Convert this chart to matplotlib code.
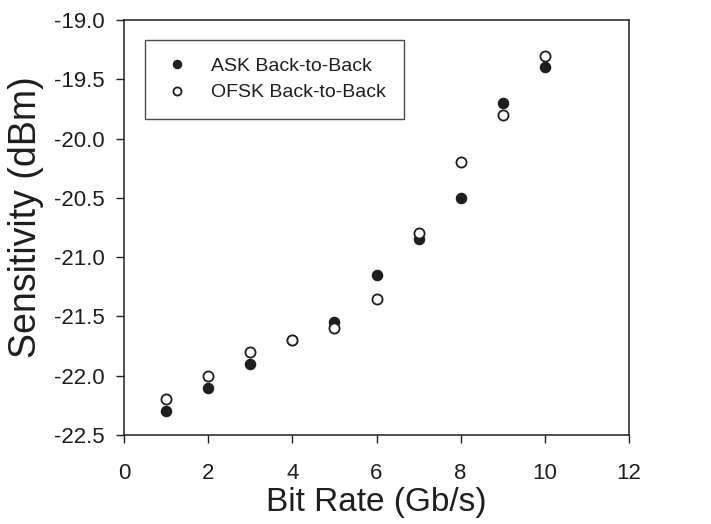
import matplotlib
matplotlib.use("Agg")
import matplotlib.pyplot as plt

plt.rcParams['font.family'] = ['Liberation Sans', 'DejaVu Sans']

bit_rate = [1, 2, 3, 4, 5, 6, 7, 8, 9, 10]
ask_b2b = [-22.3, -22.1, -21.9, -21.7, -21.55, -21.15, -20.85, -20.5, -19.7, -19.4]
ofsk_b2b = [-22.2, -22.0, -21.8, -21.7, -21.6, -21.35, -20.8, -20.2, -19.8, -19.3]

x_ticks = [0, 2, 4, 6, 8, 10, 12]
y_ticks = [-22.5, -22.0, -21.5, -21.0, -20.5, -20.0, -19.5, -19.0]

ink = '#1e1e1e'

fig = plt.figure(figsize=(7.11, 5.24), dpi=100)
ax = fig.add_axes([0.1744, 0.1698, 0.7103, 0.792])

ax.plot(bit_rate, ask_b2b, linestyle='none', marker='o', markersize=7.3,
        markerfacecolor=ink, markeredgecolor=ink, label='ASK Back-to-Back', zorder=3)
ax.plot(bit_rate, ofsk_b2b, linestyle='none', marker='o', markersize=7.3,
        markerfacecolor='white', markeredgecolor=ink, markeredgewidth=1.3,
        label='OFSK Back-to-Back', zorder=4)

ax.set_xlim(0, 12)
ax.set_ylim(-22.5, -19.0)
ax.set_xticks(x_ticks)
ax.set_yticks(y_ticks)
ax.set_xticklabels([str(v) for v in x_ticks])
ax.set_yticklabels([f"{v:.1f}" for v in y_ticks])
ax.tick_params(direction='out', length=6, width=1, labelsize=16, colors=ink)
ax.tick_params(axis='x', pad=14)
ax.tick_params(axis='y', pad=8)
for s in ax.spines.values():
    s.set_linewidth(1.1)
    s.set_color(ink)

ax.set_xlabel('Bit Rate (Gb/s)', fontsize=24, color=ink)
ax.xaxis.label.set_va('baseline')
ax.xaxis.set_label_coords(0.5, -0.183)
ax.set_ylabel('Sensitivity (dBm)', fontsize=27, color=ink)
ax.yaxis.label.set_va('center')
ax.yaxis.set_label_coords(-0.195, 0.525)

leg = ax.legend(loc='upper left', bbox_to_anchor=(0.0416, 0.770, 0.513, 0.183),
                mode='expand', fontsize=14, frameon=True, fancybox=False,
                edgecolor=ink, markerscale=0.8, handlelength=1.52,
                handletextpad=0.98, borderpad=0.9, labelspacing=0.47,
                borderaxespad=0.0)
leg.get_frame().set_linewidth(1.0)
for t in leg.get_texts():
    t.set_color(ink)

fig.savefig('out.png', dpi=100)
